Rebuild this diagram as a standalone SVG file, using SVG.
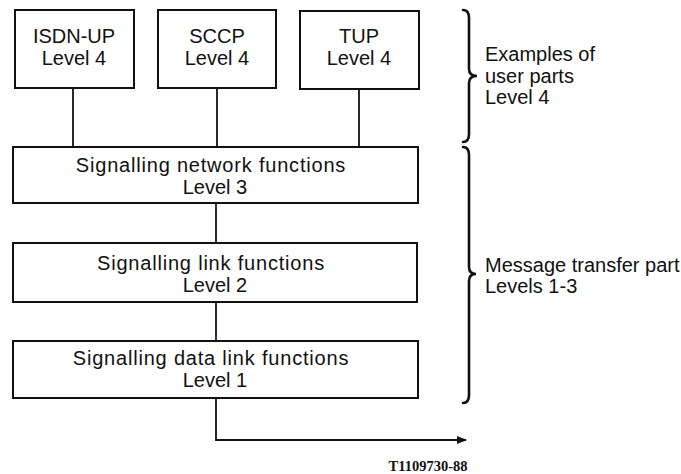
<svg xmlns="http://www.w3.org/2000/svg" width="681" height="474" viewBox="0 0 681 474">
<defs>
<style>
.box{fill:#fff;stroke:#111;stroke-width:2}
.t{font-family:"Liberation Sans",Arial,sans-serif;font-size:20px;fill:#111;text-anchor:middle}
.w{letter-spacing:0.8px}
.l{font-family:"Liberation Sans",Arial,sans-serif;font-size:20px;fill:#111}
.ln{fill:none;stroke:#111;stroke-width:1.8}
.br{fill:none;stroke:#111;stroke-width:2.6;stroke-linecap:round}
.code{font-family:"Liberation Serif","Times New Roman",serif;font-size:14.5px;font-weight:bold;fill:#111;text-anchor:middle}
</style>
<marker id="arr" markerWidth="10" markerHeight="8" refX="9" refY="4" orient="auto" markerUnits="userSpaceOnUse">
<path d="M0,0 L10,4 L0,8 Z" fill="#111"/>
</marker>
</defs>
<rect width="681" height="474" fill="#fff"/>
<g id="connectors">
<line class="ln" x1="73" y1="88" x2="73" y2="147"/>
<line class="ln" x1="217" y1="88" x2="217" y2="147"/>
<line class="ln" x1="359" y1="88" x2="359" y2="147"/>
<line class="ln" x1="216" y1="203" x2="216" y2="243"/>
<line class="ln" x1="216" y1="302" x2="216" y2="341"/>
<path class="ln" d="M216,398 L216,440 L466,440" marker-end="url(#arr)"/>
</g>
<g id="isdn-up">
<rect class="box" x="15" y="10" width="119" height="78"/>
<text class="t" x="74" y="43">ISDN-UP</text>
<text class="t" x="74" y="65">Level 4</text>
</g>
<g id="sccp">
<rect class="box" x="158" y="10" width="118" height="78"/>
<text class="t" x="217" y="43">SCCP</text>
<text class="t" x="217" y="65">Level 4</text>
</g>
<g id="tup">
<rect class="box" x="300" y="11" width="119" height="78"/>
<text class="t" x="359" y="43">TUP</text>
<text class="t" x="359" y="65">Level 4</text>
</g>
<g id="level3">
<rect class="box" x="13" y="147" width="405" height="56"/>
<text class="t w" x="211" y="172">Signalling network functions</text>
<text class="t" x="215" y="194">Level 3</text>
</g>
<g id="level2">
<rect class="box" x="13" y="243" width="404" height="59"/>
<text class="t w" x="211" y="270">Signalling link functions</text>
<text class="t" x="215" y="292">Level 2</text>
</g>
<g id="level1">
<rect class="box" x="13" y="341" width="405" height="57"/>
<text class="t w" x="211" y="365">Signalling data link functions</text>
<text class="t" x="215" y="387">Level 1</text>
</g>
<g id="brace-user-parts">
<path class="br" d="M463,10 Q469,10 469,18 L469,69 Q469,76 477,76 Q469,76 469,83 L469,134 Q469,142 463,142"/>
<text class="l" x="485" y="61">Examples of</text>
<text class="l" x="485" y="83">user parts</text>
<text class="l" x="485" y="104">Level 4</text>
</g>
<g id="brace-mtp">
<path class="br" d="M463,147 Q469,147 469,155 L469,267 Q469,274 476,274 Q469,274 469,281 L469,395 Q469,403 463,403"/>
<text class="l" x="485" y="272">Message transfer part</text>
<text class="l" x="485" y="293">Levels 1-3</text>
</g>
<text class="code" x="428" y="471">T1109730-88</text>
</svg>
